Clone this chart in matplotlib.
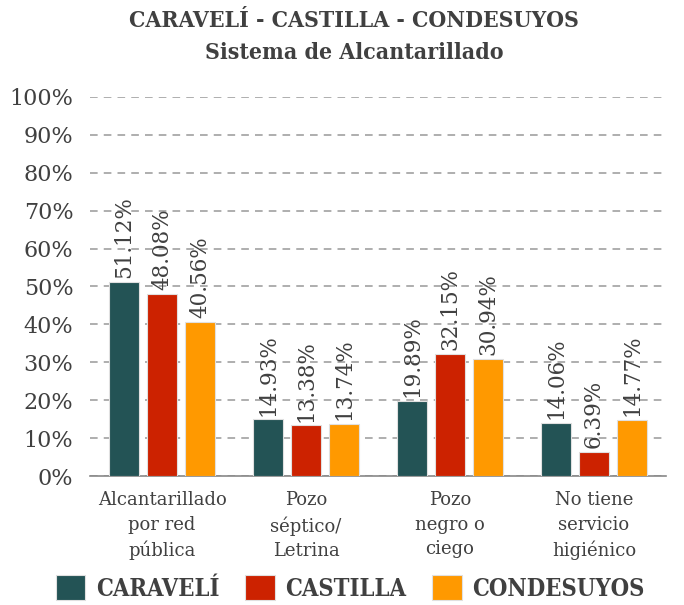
import numpy as np
import matplotlib.pyplot as plt

# categories and values (%)
categories = ["Alcantarillado\npor red\npública", "Pozo\nséptico/\nLetrina",
              "Pozo\nnegro o\nciego", "No tiene\nservicio\nhigiénico"]
caraveli = [51.12, 14.93, 19.89, 14.06]
castilla = [48.08, 13.38, 32.15, 6.39]
condesuyos = [40.56, 13.74, 30.94, 14.77]
series_names = ["CARAVELÍ", "CASTILLA", "CONDESUYOS"]
colors = ["#235355", "#CC2200", "#FF9900"]

serif = "DejaVu Serif"
txt_color = "#404040"

fig = plt.figure(figsize=(6.84, 6.05), dpi=100)
ax = fig.add_axes([0.1316, 0.2132, 0.842, 0.6265])

x = np.arange(len(categories))
width = 0.21
offset = 0.264
all_series = [caraveli, castilla, condesuyos]

for i, (vals, name, col) in enumerate(zip(all_series, series_names, colors)):
    pos = x + (i - 1) * offset
    ax.bar(pos, vals, width, color=col, edgecolor="#e0e0e0", linewidth=0.8,
           label=name, zorder=3)
    for p, v in zip(pos, vals):
        ax.text(p, v + 1.0, f"{v:.2f}%", rotation=90, ha="center", va="bottom",
                fontsize=15.5, family=serif, color=txt_color, zorder=4)

ax.set_ylim(0, 100)
ax.set_xlim(-0.5, 3.5)
ax.set_yticks(range(0, 101, 10))
ax.set_yticklabels([f"{t}%" for t in range(0, 101, 10)], fontsize=16,
                   family=serif, color=txt_color)
ax.set_xticks(x)
ax.set_xticklabels(categories, fontsize=13, family=serif, color=txt_color,
                   linespacing=1.45)
ax.tick_params(axis="both", length=0)
ax.tick_params(axis="x", pad=11)
ax.tick_params(axis="y", pad=12)

ax.grid(axis="y", color="#999999", linestyle=(0, (5, 4)), linewidth=1.1, zorder=0)
for s in ["top", "right", "left"]:
    ax.spines[s].set_visible(False)
ax.spines["bottom"].set_color("#888888")
ax.spines["bottom"].set_linewidth(1.2)

fig.text(0.518, 0.966, "CARAVELÍ - CASTILLA - CONDESUYOS", ha="center", va="center",
         fontsize=16.5, fontweight="bold", family=serif, fontstretch="condensed",
         color=txt_color)
fig.text(0.518, 0.913, "Sistema de Alcantarillado", ha="center", va="center",
         fontsize=16.5, fontweight="bold", family=serif, fontstretch="condensed",
         color=txt_color)

leg = fig.legend(loc="lower center", bbox_to_anchor=(0.512, -0.028), ncol=3,
                 frameon=False, handlelength=1.25, handleheight=1.25,
                 columnspacing=1.1, handletextpad=0.45,
                 prop={"family": serif, "weight": "bold", "size": 17,
                       "stretch": "condensed"})
for t in leg.get_texts():
    t.set_color(txt_color)

fig.savefig("out.png", dpi=100)
